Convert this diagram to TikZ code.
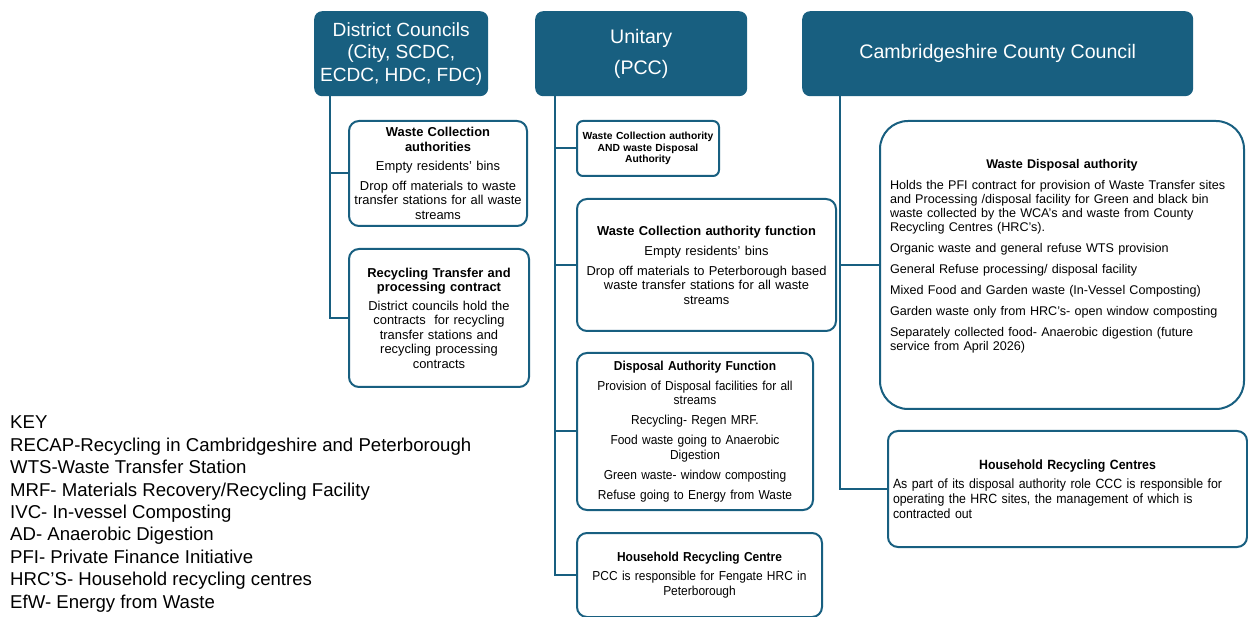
\documentclass[tikz,border=0pt]{standalone}
\usepackage{fontspec}
\setmainfont{Liberation Sans}
\newfontfamily\narrowfont[FakeStretch=0.92]{Liberation Sans}
\definecolor{council}{RGB}{24,95,128}
\begin{document}
\begin{tikzpicture}[x=1pt,y=-1pt,
		head/.style={fill=council, rounded corners=8pt, text=white, anchor=north west, inner sep=0pt, align=center, font=\fontsize{19.6}{22.5}\selectfont},
		duty/.style={draw=council, fill=white, line width=2pt, rounded corners=10pt, anchor=north west, inner sep=4pt, align=center, font=\fontsize{12.9}{14.5}\selectfont},
		link/.style={draw=council, line width=2pt}]
			\useasboundingbox (0,0) rectangle (1248,617);
			\node (dc) [head, minimum width=174pt, minimum height=85pt, font=\fontsize{19.1}{22.5}\selectfont] at (314,11) {District Councils\\(City, SCDC,\\ECDC, HDC, FDC)};
			\node (pcc) [head, minimum width=212pt, minimum height=85pt] at (535,11) {Unitary\\[8pt](PCC)};
			\node (ccc) [head, minimum width=391pt, minimum height=85pt] at (802,11) {Cambridgeshire County Council};
			\node (wca) [duty, minimum width=178pt, minimum height=105pt, text width=170pt] at (348,120)
				{\textbf{Waste Collection}\\\textbf{authorities}\\[5pt]Empty residents' bins\\[5pt]Drop off materials to waste\\transfer stations for all waste\\streams};
			\node (rtp) [duty, minimum width=180pt, minimum height=138pt, text width=172pt] at (348,248)
				{\textbf{Recycling Transfer and}\\\textbf{processing contract}\\[4pt]District councils hold the\\contracts\ \ for recycling\\transfer stations and\\recycling processing\\contracts};
			\node (both) [duty, minimum width=142pt, minimum height=55pt, text width=134pt, rounded corners=6pt, font=\bfseries\fontsize{10.3}{11.5}\selectfont] at (576,120)
				{Waste Collection authority\\AND waste Disposal\\Authority};
			\node (wcf) [duty, minimum width=259pt, minimum height=132pt, text width=251pt] at (576,198)
				{\textbf{Waste Collection authority function}\\[5.5pt]Empty residents' bins\\[5.5pt]Drop off materials to Peterborough based\\waste transfer stations for all waste\\streams};
			\node (daf) [duty, minimum width=236pt, minimum height=157pt, text width=228pt, font=\narrowfont\fontsize{13}{14.5}\selectfont] at (576,352)
				{\textbf{Disposal Authority Function}\\[5.5pt]Provision of Disposal facilities for all\\streams\\[5.5pt]Recycling- Regen MRF.\\[5.5pt]Food waste going to Anaerobic\\Digestion\\[5.5pt]Green waste- window composting\\[5.5pt]Refuse going to Energy from Waste};
			\node (hrcp) [duty, minimum width=245pt, minimum height=84pt, text width=237pt, font=\narrowfont\fontsize{13}{14.5}\selectfont] at (576,532)
				{\textbf{Household Recycling Centre}\\[5pt]PCC is responsible for Fengate HRC in\\Peterborough};
			\node (wda) [duty, minimum width=364pt, minimum height=288pt, text width=344pt, rounded corners=28pt, align=left, font=\fontsize{12.6}{14}\selectfont] at (879,120)
				{\makebox[\linewidth]{\textbf{Waste Disposal authority}}\\[7pt]Holds the PFI contract for provision of Waste Transfer sites\\and Processing /disposal facility for Green and black bin\\waste collected by the WCA’s and waste from County\\Recycling Centres (HRC’s).\\[7.5pt]Organic waste and general refuse WTS provision\\[7pt]General Refuse processing/ disposal facility\\[7pt]Mixed Food and Garden waste (In-Vessel Composting)\\[7pt]Garden waste only from HRC’s- open window composting\\[7pt]Separately collected food- Anaerobic digestion (future\\service from April 2026)\\[6pt]~};
			\node (hrcc) [duty, minimum width=359pt, minimum height=116pt, text width=349pt, align=left, font=\narrowfont\fontsize{13.4}{14.8}\selectfont] at (887,430)
				{\makebox[\linewidth]{\textbf{Household Recycling Centres}}\\[5pt]As part of its disposal authority role CCC is responsible for\\operating the HRC sites, the management of which is\\contracted out};
			\coordinate (dct) at ([xshift=16pt]dc.south west);
			\coordinate (pcct) at ([xshift=20pt]pcc.south west);
			\coordinate (ccct) at ([xshift=38pt]ccc.south west);
			\draw [link] (dct) |- (wca.west);
			\draw [link] (dct) |- (rtp.west);
			\foreach \n in {both,wcf,daf,hrcp}
				\draw [link] (pcct) |- (\n.west);
			\foreach \n in {wda,hrcc}
				\draw [link] (ccct) |- (\n.west);
			\node (key) [anchor=north west, align=left, inner sep=0pt, font=\fontsize{18.6}{22.4}\selectfont] at (10,416)
				{KEY\\RECAP-Recycling in Cambridgeshire and Peterborough\\WTS-Waste Transfer Station\\MRF- Materials Recovery/Recycling Facility\\IVC- In-vessel Composting\\AD- Anaerobic Digestion\\PFI- Private Finance Initiative\\HRC’S- Household recycling centres\\EfW- Energy from Waste};
		\end{tikzpicture}
\end{document}
